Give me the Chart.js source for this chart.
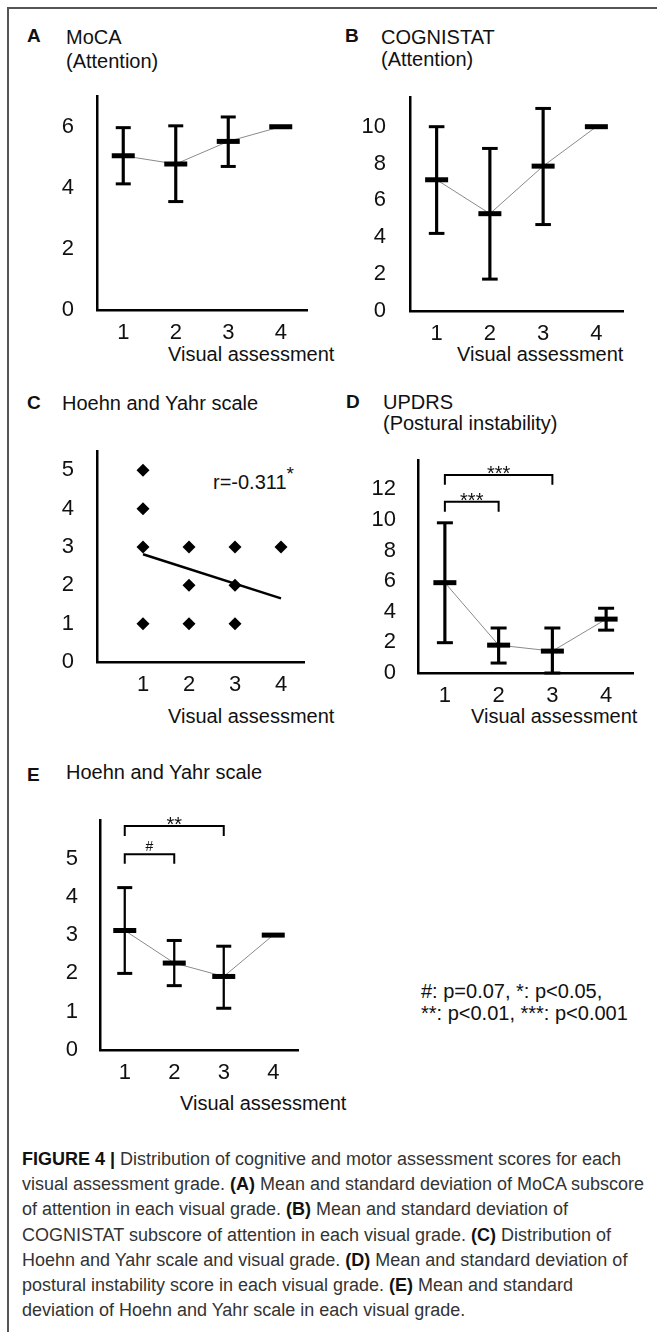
<!DOCTYPE html>
<html><head><meta charset="utf-8">
<script src="https://cdn.jsdelivr.net/npm/chart.js@4"></script>
<style>
html,body{margin:0;padding:0;background:#fff;}
#page{position:relative;width:657px;height:1332px;overflow:hidden;background:#fff;}
.frameT{position:absolute;left:7px;top:7px;width:650px;height:2px;background:#555;}
.frameL{position:absolute;left:7px;top:7px;width:2px;height:1325px;background:#555;}
canvas{position:absolute;}
.t{position:absolute;white-space:nowrap;font-family:"Liberation Sans",Arial,sans-serif;font-size:20px;line-height:24px;color:#111;}
.b{font-weight:bold;font-size:19px;}
.cap{position:absolute;left:22px;top:1147px;font-family:"Liberation Sans Narrow","Liberation Sans",Arial,sans-serif;font-size:18px;line-height:25.2px;color:#333;white-space:nowrap;transform-origin:0 0;}
.cap b{color:#111;}
sup{font-size:19px;line-height:0;position:relative;top:-1px;}
</style></head>
<body><div id="page">
<div class="frameT"></div><div class="frameL"></div>

<div class="t b" style="left:27px;top:24px;">A</div>
<div class="t" style="left:66px;top:25px;">MoCA</div>
<div class="t" style="left:66px;top:49px;">(Attention)</div>
<div class="t b" style="left:345px;top:24px;">B</div>
<div class="t" style="left:381px;top:25px;">COGNISTAT</div>
<div class="t" style="left:381px;top:47px;">(Attention)</div>
<div class="t b" style="left:27px;top:391px;">C</div>
<div class="t" style="left:62px;top:391px;">Hoehn and Yahr scale</div>
<div class="t b" style="left:346px;top:390px;">D</div>
<div class="t" style="left:383px;top:390px;">UPDRS</div>
<div class="t" style="left:383px;top:411px;">(Postural instability)</div>
<div class="t b" style="left:27px;top:763px;">E</div>
<div class="t" style="left:66px;top:760px;">Hoehn and Yahr scale</div>

<div class="t" style="left:168px;top:342px;">Visual assessment</div>
<div class="t" style="left:457px;top:342px;">Visual assessment</div>
<div class="t" style="left:168px;top:704px;">Visual assessment</div>
<div class="t" style="left:471px;top:704px;">Visual assessment</div>
<div class="t" style="left:180px;top:1091px;">Visual assessment</div>

<div class="t" style="left:213px;top:470px;">r=-0.311<sup>*</sup></div>

<div class="t" style="left:421px;top:979px;">#: p=0.07, *: p&lt;0.05,</div>
<div class="t" style="left:421px;top:1001px;">**: p&lt;0.01, ***: p&lt;0.001</div>

<div class="cap" id="cap">
<b>FIGURE 4 |</b> Distribution of cognitive and motor assessment scores for each<br>
<span id="capL2">visual assessment grade. <b>(A)</b> Mean and standard deviation of MoCA subscore</span><br>
of attention in each visual grade. <b>(B)</b> Mean and standard deviation of<br>
COGNISTAT subscore of attention in each visual grade. <b>(C)</b> Distribution of<br>
Hoehn and Yahr scale and visual grade. <b>(D)</b> Mean and standard deviation of<br>
postural instability score in each visual grade. <b>(E)</b> Mean and standard<br>
deviation of Hoehn and Yahr scale in each visual grade.
</div>

<canvas id="cA" width="328" height="300" style="left:0px;top:60px;width:328px;height:300px;"></canvas>
<canvas id="cB" width="329" height="300" style="left:328px;top:60px;width:329px;height:300px;"></canvas>
<canvas id="cC" width="328" height="290" style="left:0px;top:415px;width:328px;height:290px;"></canvas>
<canvas id="cD" width="329" height="290" style="left:328px;top:425px;width:329px;height:290px;"></canvas>
<canvas id="cE" width="330" height="310" style="left:0px;top:785px;width:330px;height:310px;"></canvas>
</div>
<script>
// ---------- data ----------
const grades = ['1','2','3','4'];

// A: MoCA (Attention)
const yTicksA = [0,2,4,6];
const mocaMean  = [5.05, 4.78, 5.52, 6.0];
const mocaUpper = [5.97, 6.03, 6.32, null];
const mocaLower = [4.13, 3.55, 4.70, null];

// B: COGNISTAT (Attention)
const yTicksB = [0,2,4,6,8,10];
const cogMean  = [7.12, 5.28, 7.86, 10.0];
const cogUpper = [10.0, 8.82, 10.99, null];
const cogLower = [4.21, 1.73, 4.69, null];

// C: Hoehn and Yahr scale vs visual grade (scatter)
const yTicksC = [0,1,2,3,4,5];
const xTicksC = [1,2,3,4];
const hyGrade = [1,1,1,1,2,2,2,3,3,3,4];
const hyScore = [5,4,3,1,3,2,1,3,2,1,3];
const fitGrade = [1,4];
const fitScore = [2.81,1.66];

// D: UPDRS (Postural instability)
const yTicksD = [0,2,4,6,8,10,12];
const piMean  = [5.90, 1.82, 1.43, 3.52];
const piUpper = [9.81, 2.94, 2.94, 4.23];
const piLower = [1.98, 0.65, 0.00, 2.80];
const piBrFrom  = ['1','1'];
const piBrTo    = ['3','2'];
const piBrLevel = [12.94, 11.18];
const piBrFoot  = [12.30, 10.53];
const piBrLabel = ['***','***'];

// E: Hoehn and Yahr scale (mean, SD)
const yTicksE = [0,1,2,3,4,5];
const hyMean  = [3.12, 2.27, 1.92, 3.0];
const hyUpper = [4.24, 2.86, 2.71, null];
const hyLower = [2.00, 1.68, 1.09, null];
const hyBrFrom  = ['1','1'];
const hyBrTo    = ['3','2'];
const hyBrLevel = [5.85, 5.11];
const hyBrFoot  = [5.59, 4.86];
const hyBrLabel = ['**','#'];

// ---------- helpers ----------
const FONT = '"Liberation Sans", Arial, sans-serif';

function yScale(max, ticks, pad, width){
  return {
    min:0, max:max,
    border:{display:true,color:'#000',width:2.5},
    grid:{display:false,drawTicks:false},
    ticks:{padding:pad,color:'#111',font:{family:FONT,size:22}},
    afterBuildTicks:s=>{s.ticks=ticks.map(v=>({value:v}));},
    afterFit:s=>{s.width=width;}
  };
}
function xCat(height){
  return {
    type:'category', labels:grades, offset:true,
    border:{display:true,color:'#000',width:2.5},
    grid:{display:false,drawTicks:false},
    ticks:{padding:10,color:'#111',font:{family:FONT,size:22}},
    afterFit:s=>{s.height=height;}
  };
}
function bracketPlugin(from,to,level,foot,label){
  return {
    id:'brackets',
    afterDatasetsDraw(chart){
      const ctx=chart.ctx, x=chart.scales.x, y=chart.scales.y;
      ctx.save();
      ctx.strokeStyle='#000'; ctx.lineWidth=2; ctx.fillStyle='#111';
      for(let i=0;i<from.length;i++){
        const x1=x.getPixelForValue(grades.indexOf(from[i]));
        const x2=x.getPixelForValue(grades.indexOf(to[i]));
        const yl=y.getPixelForValue(level[i]);
        const yf=y.getPixelForValue(foot[i]);
        ctx.beginPath();
        ctx.moveTo(x1,yf); ctx.lineTo(x1,yl); ctx.lineTo(x2,yl); ctx.lineTo(x2,yf);
        ctx.stroke();
        const star = label[i].indexOf('*')>=0;
        ctx.font = (star?'20px ':'14px ')+FONT;
        ctx.textAlign='center'; ctx.textBaseline='alphabetic';
        ctx.fillText(label[i],(x1+x2)/2, yl + (star?5:-3));
      }
      ctx.restore();
    }
  };
}
function errorChart(id, mean, upper, lower, ymax, yticks, geo, extraPlugins){
  const range = grades.map((g,i)=> upper[i]==null ? null : [lower[i], upper[i]]);
  return new Chart(document.getElementById(id), {
    type:'bar',
    data:{
      labels:grades,
      datasets:[
        {type:'line', data:mean, borderColor:'#8a8a8a', borderWidth:1,
         pointStyle:'line', pointRadius:11.5, pointBorderWidth:5, pointBorderColor:'#000',
         pointBackgroundColor:'#000', clip:false, order:0},
        {type:'line', data:upper, showLine:false, pointStyle:'line', pointRadius:geo.cap,
         pointBorderWidth:3, pointBorderColor:'#000', clip:false, order:1},
        {type:'line', data:lower, showLine:false, pointStyle:'line', pointRadius:geo.cap,
         pointBorderWidth:3, pointBorderColor:'#000', clip:false, order:1},
        {type:'bar', data:range, barThickness:geo.stem, backgroundColor:'#000',
         borderWidth:0, clip:false, order:2}
      ]
    },
    options:{
      responsive:false, animation:false, events:[],
      layout:{padding:{left:0,right:geo.pr,top:geo.pt,bottom:0}},
      plugins:{legend:{display:false},tooltip:{enabled:false}},
      scales:{ x:xCat(geo.h), y:yScale(ymax, yticks, geo.lpad, geo.yw) }
    },
    plugins: extraPlugins||[]
  });
}

// ---------- charts ----------
errorChart('cA', mocaMean, mocaUpper, mocaLower, 7, yTicksA,
  {pr:21, pt:17, h:50, yw:97, lpad:23, cap:7.5, stem:2.5});
errorChart('cB', cogMean, cogUpper, cogLower, 11.6, yTicksB,
  {pr:34, pt:16, h:49, yw:82, lpad:24, cap:7.8, stem:2.5});
errorChart('cD', piMean, piUpper, piLower, 13.9, yTicksD,
  {pr:24, pt:12, h:42, yw:90, lpad:22, cap:8, stem:2.5},
  [bracketPlugin(piBrFrom, piBrTo, piBrLevel, piBrFoot, piBrLabel)]);
errorChart('cE', hyMean, hyUpper, hyLower, 6, yTicksE,
  {pr:32, pt:12, h:45, yw:100, lpad:22, cap:7.5, stem:1.6},
  [bracketPlugin(hyBrFrom, hyBrTo, hyBrLevel, hyBrFoot, hyBrLabel)]);

new Chart(document.getElementById('cC'), {
  type:'scatter',
  data:{
    datasets:[
      {type:'line', data:fitGrade.map((g,i)=>({x:g,y:fitScore[i]})), borderColor:'#000',
       borderWidth:2.5, pointRadius:0, clip:false, order:1},
      {type:'scatter', data:hyGrade.map((g,i)=>({x:g,y:hyScore[i]})), pointStyle:'rectRot',
       pointRadius:6.5, backgroundColor:'#000', borderColor:'#000', borderWidth:0, clip:false, order:0}
    ]
  },
  options:{
    responsive:false, animation:false, events:[],
    layout:{padding:{left:0,right:24,top:12,bottom:0}},
    plugins:{legend:{display:false},tooltip:{enabled:false}},
    scales:{
      x:{type:'linear', min:0, max:4.5,
         border:{display:true,color:'#000',width:2.5},
         grid:{display:false,drawTicks:false},
         ticks:{padding:10,color:'#111',font:{family:FONT,size:22}},
         afterBuildTicks:s=>{s.ticks=xTicksC.map(v=>({value:v}));},
         afterFit:s=>{s.height=43;}},
      y:yScale(5.5, yTicksC, 23, 97)
    }
  }
});

// fit caption width (line 2 spans ~622px in the reference)
(function(){
  const l2=document.getElementById('capL2');
  const w=l2.getBoundingClientRect().width;
  const k=622/w;
  document.getElementById('cap').style.transform='scaleX('+k.toFixed(4)+')';
})();
</script>
</body></html>
